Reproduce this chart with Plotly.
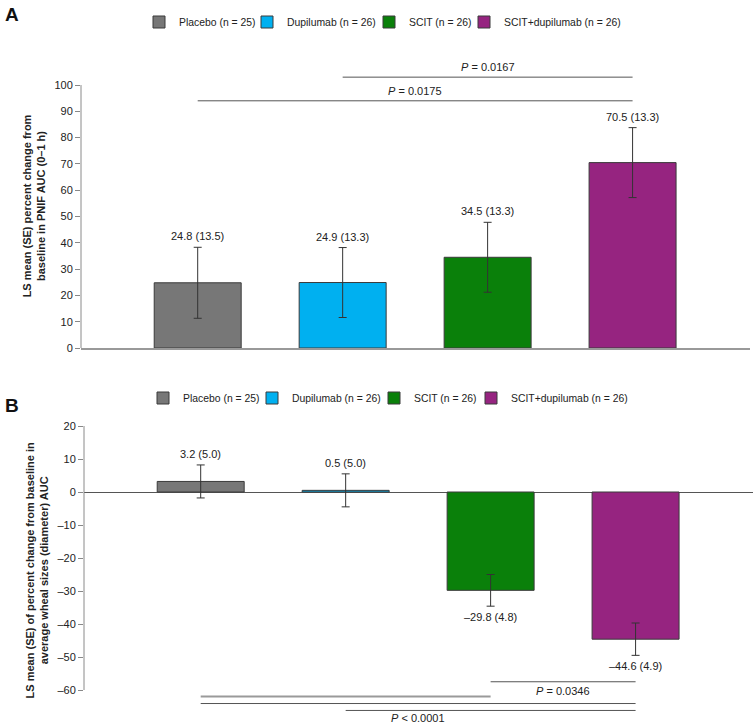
import plotly.graph_objects as go

# ---------------- data ----------------
groups = ["Placebo (n = 25)", "Dupilumab (n = 26)", "SCIT (n = 26)", "SCIT+dupilumab (n = 26)"]
pnif_mean = [24.8, 24.9, 34.5, 70.5]
pnif_se = [13.5, 13.3, 13.3, 13.3]
wheal_mean = [3.2, 0.5, -29.8, -44.6]
wheal_se = [5.0, 5.0, 4.8, 4.9]
pnif_ticks = [0, 10, 20, 30, 40, 50, 60, 70, 80, 90, 100]
wheal_ticks = [-60, -50, -40, -30, -20, -10, 0, 10, 20]
pnif_pvalues = ["= 0.0167", "= 0.0175"]
wheal_pvalues = ["= 0.0346", "< 0.0001"]

# ---------------- styles / layout ----------------
colors = ["#777777", "#00B0F0", "#0A800A", "#962480"]
FONT = "Arial, 'Liberation Sans', sans-serif"
W, H = 753, 723
legend_a_px = [139, 247, 369, 464]   # left edge of each legend box (px)
legend_b_px = [143, 252, 374, 471]


def fmt(v):
    s = f"{abs(v):.1f}"
    return ("\u2013" + s) if v < 0 else s


def tick_fmt(v):
    return ("\u2013" + str(abs(v))) if v < 0 else str(v)


fig = go.Figure()
for i, g in enumerate(groups):
    fig.add_bar(x=[i], y=[pnif_mean[i]], width=0.6, name=g,
                marker=dict(color=colors[i], line=dict(color="#3a3a3a", width=1)),
                error_y=dict(type="data", array=[pnif_se[i]], color="#333333", thickness=1, width=4),
                xaxis="x", yaxis="y", legend="legend" if i == 0 else f"legend{i + 1}",
                hoverinfo="skip")
for i, g in enumerate(groups):
    fig.add_bar(x=[i], y=[wheal_mean[i]], width=0.6, name=g,
                marker=dict(color=colors[i], line=dict(color="#3a3a3a", width=1)),
                error_y=dict(type="data", array=[wheal_se[i]], color="#333333", thickness=1, width=4),
                xaxis="x2", yaxis="y2", legend=f"legend{i + 5}", hoverinfo="skip")

annotations = []
# value labels
for i in range(4):
    m, s = pnif_mean[i], pnif_se[i]
    annotations.append(dict(x=i, y=m + s, xref="x", yref="y", text=f"{fmt(m)} ({fmt(s)})",
                            showarrow=False, yshift=11, yanchor="middle", font=dict(size=11, color="#222")))
for i in range(4):
    m, s = wheal_mean[i], wheal_se[i]
    if m >= 0:
        annotations.append(dict(x=i, y=m + s, xref="x2", yref="y2", text=f"{fmt(m)} ({fmt(s)})",
                                showarrow=False, yshift=11, yanchor="middle", font=dict(size=11, color="#222")))
    else:
        annotations.append(dict(x=i, y=m - s, xref="x2", yref="y2", text=f"{fmt(m)} ({fmt(s)})",
                                showarrow=False, yshift=-11, yanchor="middle", font=dict(size=11, color="#222")))

shapes = []
# y-axis lines
shapes.append(dict(type="line", xref="x domain", yref="y", x0=0, x1=0, y0=0, y1=100,
                   line=dict(color="#8a8a8a", width=1)))
shapes.append(dict(type="line", xref="x2 domain", yref="y2", x0=0, x1=0, y0=-60, y1=20,
                   line=dict(color="#8a8a8a", width=1)))

# significance brackets (layout positions)
brackets_a = [
    dict(x0=1, x1=3, y=103.0, tx=2.0, shift=10, text=pnif_pvalues[0]),
    dict(x0=0, x1=3, y=94.0, tx=1.5, shift=10, text=pnif_pvalues[1]),
]
for b in brackets_a:
    shapes.append(dict(type="line", xref="x", yref="y", x0=b["x0"], x1=b["x1"], y0=b["y"], y1=b["y"],
                       line=dict(color="#555555", width=1)))
    annotations.append(dict(x=b["tx"], y=b["y"], xref="x", yref="y", text=f"<i>P</i> {b['text']}",
                            showarrow=False, yshift=b["shift"], yanchor="middle", font=dict(size=11, color="#222")))

brackets_b = [
    dict(x0=2, x1=3, y=-57.5, color="#555555", w=1),
    dict(x0=0, x1=2, y=-62.0, color="#9a9a9a", w=2),
    dict(x0=0, x1=3, y=-64.1, color="#555555", w=1),
    dict(x0=1, x1=3, y=-66.2, color="#555555", w=1),
]
for b in brackets_b:
    shapes.append(dict(type="line", xref="x2", yref="y2", x0=b["x0"], x1=b["x1"], y0=b["y"], y1=b["y"],
                       line=dict(color=b["color"], width=b["w"])))
annotations.append(dict(x=2.5, y=-57.5, xref="x2", yref="y2", text=f"<i>P</i> {wheal_pvalues[0]}",
                        showarrow=False, yshift=-9, yanchor="middle", font=dict(size=11, color="#222")))
annotations.append(dict(x=1.5, y=-66.2, xref="x2", yref="y2", text=f"<i>P</i> {wheal_pvalues[1]}",
                        showarrow=False, yshift=-8, yanchor="middle", font=dict(size=11, color="#222")))

# panel letters
annotations.append(dict(x=3 / W, y=1 - 14 / H, xref="paper", yref="paper", text="<b>A</b>",
                        showarrow=False, xanchor="left", yanchor="middle", font=dict(size=19, color="#111")))
annotations.append(dict(x=3 / W, y=1 - 405 / H, xref="paper", yref="paper", text="<b>B</b>",
                        showarrow=False, xanchor="left", yanchor="middle", font=dict(size=19, color="#111")))

legends = {}
for i in range(4):
    key = "legend" if i == 0 else f"legend{i + 1}"
    legends[key] = dict(orientation="h", x=legend_a_px[i] / W, y=1 - 22 / H, xanchor="left", yanchor="middle",
                        font=dict(size=10.4, color="#222"), bgcolor="rgba(0,0,0,0)")
    legends[f"legend{i + 5}"] = dict(orientation="h", x=legend_b_px[i] / W, y=1 - 398 / H, xanchor="left",
                                     yanchor="middle", font=dict(size=10.4, color="#222"),
                                     bgcolor="rgba(0,0,0,0)")

xr = [-0.805, 3.81]
fig.update_layout(
    width=W, height=H,
    margin=dict(l=0, r=0, t=0, b=0, pad=0, autoexpand=False),
    paper_bgcolor="white", plot_bgcolor="white",
    barmode="overlay",
    font=dict(family=FONT, size=11, color="#222"),
    showlegend=True,
    xaxis=dict(domain=[81 / W, 750 / W], range=xr, showticklabels=False, ticks="",
               showline=True, linecolor="#999999", linewidth=1.5, showgrid=False, zeroline=False,
               anchor="y", fixedrange=True, automargin=False),
    yaxis=dict(domain=[(H - 348) / H, (H - 64) / H], range=[0, 108], tickvals=pnif_ticks,
               ticks="outside", ticklen=5, tickcolor="#888", showline=False, showgrid=False,
               zeroline=False, anchor="x", tickfont=dict(size=11, color="#222"), automargin=False,
               title=dict(text="<b>LS mean (SE) percent change from<br>baseline in PNIF AUC (0\u20131 h)</b>",
                          font=dict(size=11, color="#222"), standoff=6)),
    xaxis2=dict(domain=[84 / W, 1.0], range=xr, showticklabels=False, ticks="",
                showline=False, showgrid=False, zeroline=False, anchor="y2", fixedrange=True,
                automargin=False),
    yaxis2=dict(domain=[(H - 714.75) / H, (H - 426) / H], range=[-67.5, 20], tickvals=wheal_ticks,
                ticktext=[tick_fmt(v) for v in wheal_ticks],
                ticks="outside", ticklen=5, tickcolor="#888", showline=False, showgrid=False,
                zeroline=True, zerolinecolor="#555555", zerolinewidth=1, anchor="x2",
                tickfont=dict(size=11, color="#222"), automargin=False,
                title=dict(text="<b>LS mean (SE) of percent change from baseline in<br>average wheal sizes (diameter) AUC</b>",
                           font=dict(size=11, color="#222"), standoff=6)),
    shapes=shapes,
    annotations=annotations,
    **legends,
)

fig.write_html("out.html", config={"displayModeBar": False},
               post_script="document.body.style.margin='0';")
